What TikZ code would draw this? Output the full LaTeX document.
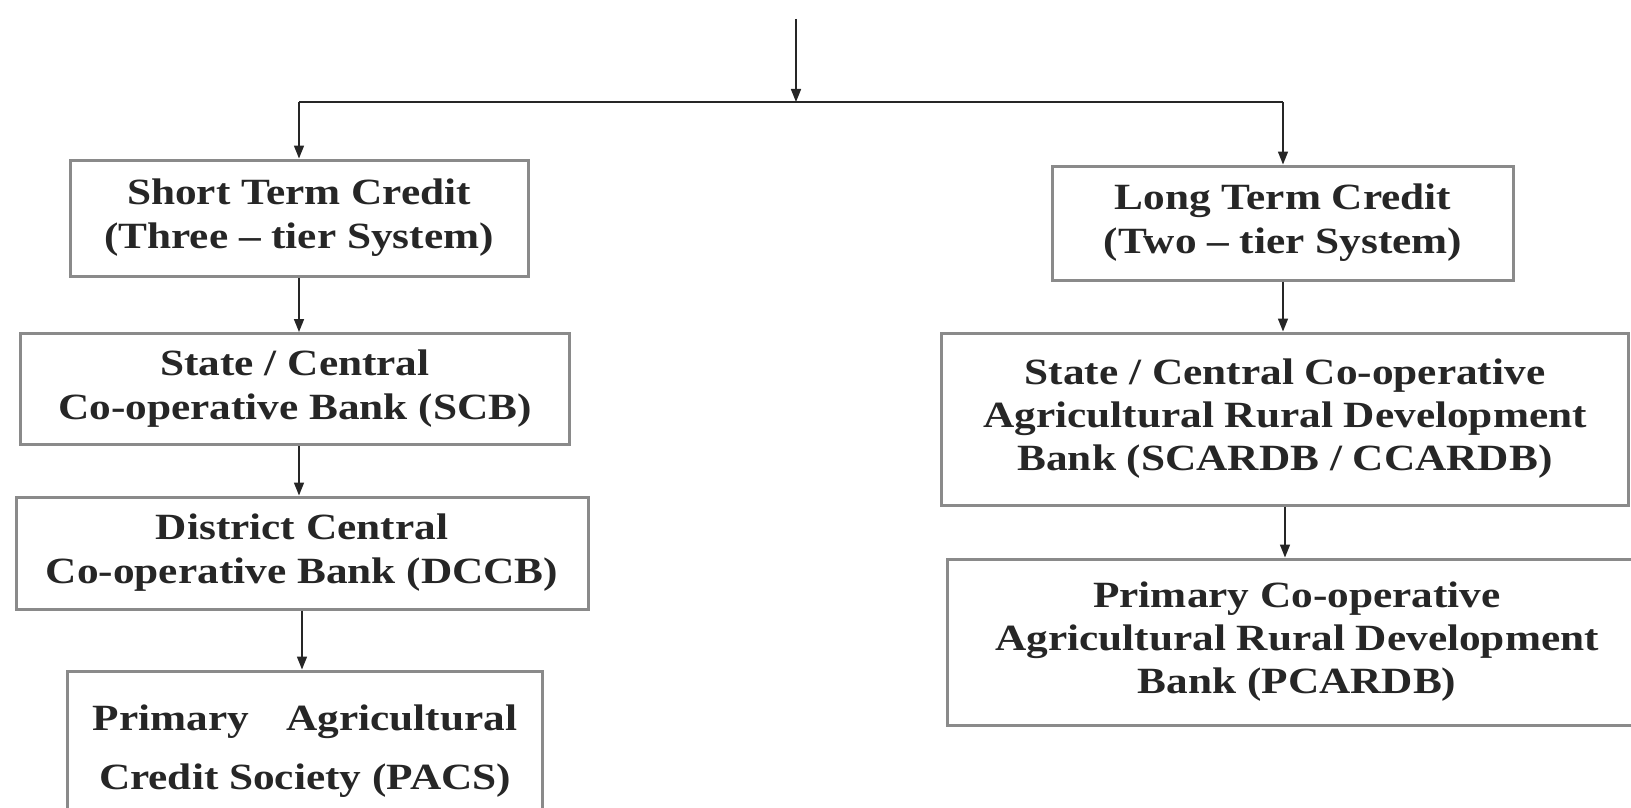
\documentclass[tikz,border=0pt]{standalone}
\usepackage{fontspec}
\setmainfont{Liberation Serif}[FakeStretch=1.17]
\usetikzlibrary{arrows.meta}
\definecolor{boxline}{HTML}{8A8A8A}
\definecolor{txt}{HTML}{262626}
\tikzset{
  orgbox/.style={draw=boxline, line width=3pt, fill=white, align=center, text=txt,
    font=\fontsize{37}{44}\selectfont\bfseries, inner sep=0pt},
  link/.style={draw=black!85, line width=1.6pt},
  arrowlink/.style={link, -{Triangle[length=13pt,width=10pt]}}
}
\begin{document}
\begin{tikzpicture}[x=1pt,y=-1pt]
\useasboundingbox (0,0) rectangle (1631,808);
\clip (0,0) rectangle (1631,808);
% left column
\node[orgbox, minimum width=458pt, minimum height=116pt] (b1) at (299,218)
  {Short Term Credit\\(Three -- tier System)};
\node[orgbox, minimum width=549pt, minimum height=111pt] (b2) at (295,389)
  {State / Central\\Co-operative Bank (SCB)};
\node[orgbox, minimum width=572pt, minimum height=112pt] (b3) at (302,553)
  {District Central\\Co-operative Bank (DCCB)};
\node[orgbox, minimum width=475pt, minimum height=170pt, font=\fontsize{37}{59}\selectfont\bfseries] (b4) at (305,756)
  {Primary\quad Agricultural\\Credit Society (PACS)\\[-42pt]\mbox{}};
% right column
\node[orgbox, minimum width=461pt, minimum height=114pt] (b5) at (1283,223)
  {Long Term Credit\\(Two -- tier System)};
\node[orgbox, minimum width=687pt, minimum height=172pt, font=\fontsize{37}{43}\selectfont\bfseries] (b6) at (1285,419)
  {State / Central Co-operative\\Agricultural Rural Development\\Bank (SCARDB / CCARDB)};
\node[orgbox, minimum width=700pt, minimum height=166pt, font=\fontsize{37}{43}\selectfont\bfseries] (b7) at (1297,642)
  {Primary Co-operative\\Agricultural Rural Development\\Bank (PCARDB)};
% top connectors
\coordinate (top) at (796,19);
\coordinate (mid) at (796,102);
\coordinate (hl) at (299,102);
\coordinate (hr) at (1283,102);
\draw[arrowlink] (top) -- (mid);
\draw[link] (hl) -- (hr);
\draw[arrowlink] (hl) -- (b1.north);
\draw[arrowlink] (hr) -- (b5.north);
% column connectors
\draw[arrowlink] (b1.south) -- (b1.south |- b2.north);
\draw[arrowlink] (b1.south |- b2.south) -- (b1.south |- b3.north);
\draw[arrowlink] (b3.south) -- (b3.south |- b4.north);
\draw[arrowlink] (b5.south) -- (b5.south |- b6.north);
\draw[arrowlink] (b6.south) -- (b6.south |- b7.north);
\end{tikzpicture}
\end{document}
